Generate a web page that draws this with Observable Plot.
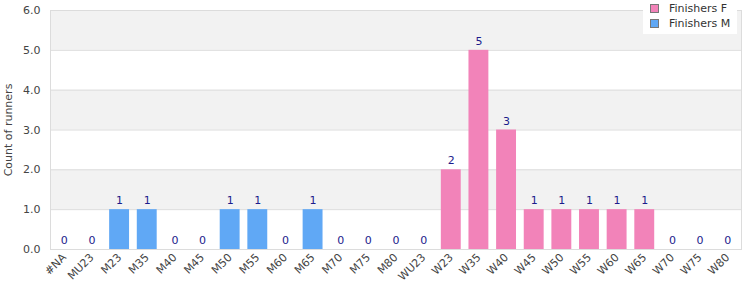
<!DOCTYPE html>
<html>
<head>
<meta charset="utf-8">
<script src="https://cdn.jsdelivr.net/npm/d3@7"></script>
<script src="https://cdn.jsdelivr.net/npm/@observablehq/plot@0.6"></script>
<style>
  body { margin: 0; background: #fff; font-family: "DejaVu Sans", sans-serif; }
  #wrap { position: relative; width: 750px; height: 300px; }
  #legend { position: absolute; left: 643px; top: 0px; width: 94px; height: 34px; background: #fff;
            font: 11px "DejaVu Sans", sans-serif; color: #333; }
  .li { position: absolute; left: 7px; display: flex; align-items: center; }
  .sw { width: 7px; height: 7px; border: 1px solid #777; margin-right: 10px; }
</style>
</head>
<body>
<div id="wrap"><div id="legend"></div></div>
<script>
const categories = ["#NA","MU23","M23","M35","M40","M45","M50","M55","M60","M65","M70","M75","M80",
  "WU23","W23","W35","W40","W45","W50","W55","W60","W65","W70","W75","W80"];
const values = [0,0,1,1,0,0,1,1,0,1,0,0,0, 0,2,5,3,1,1,1,1,1,0,0,0];
const series = ["M","M","M","M","M","M","M","M","M","M","M","M","M",
  "F","F","F","F","F","F","F","F","F","F","F","F"];
const seriesNames = ["Finishers F", "Finishers M"];
const seriesKeys = ["F", "M"];
const seriesColors = ["#f283b9", "#60a8f5"];
const yTicks = [0,1,2,3,4,5,6];
const shadedBands = [1,3,5];

const data = categories.map((c, i) => ({cat: c, value: values[i], s: series[i]}));

const chart = Plot.plot({
  width: 750, height: 300,
  marginLeft: 50, marginRight: 9, marginTop: 10, marginBottom: 51,
  style: {fontFamily: "DejaVu Sans, sans-serif", fontSize: "11px", color: "#444", background: "#fff"},
  x: {domain: categories, paddingInner: 0.28, paddingOuter: 0.14, round: false, label: null},
  y: {domain: [0, 6], label: null},
  color: {domain: seriesKeys, range: seriesColors},
  marks: [
    Plot.rect(shadedBands, {y1: d => d, y2: d => d + 1, fill: "#f2f2f2"}),
    Plot.gridY(yTicks, {stroke: "#dcdcdc", strokeOpacity: 1}),
    Plot.barY(data.filter(d => d.value > 0), {x: "cat", y: "value", fill: "s"}),
    Plot.text(data, {x: "cat", y: "value", text: d => String(d.value), dy: -9, fill: "#1c1c8c", fontSize: 11}),
    Plot.axisY(yTicks, {tickSize: 0, tickPadding: 10, tickFormat: d3.format(".1f"), fill: "#444",
      label: "Count of runners", labelAnchor: "center", labelOffset: 46, labelArrow: "none"}),
    Plot.axisX({tickSize: 0, tickPadding: 6, tickRotate: -45, fill: "#444", label: null}),
    Plot.frame({stroke: "#dcdcdc"})
  ]
});
document.getElementById("wrap").insertBefore(chart, document.getElementById("legend"));

const leg = document.getElementById("legend");
seriesNames.forEach((n, i) => {
  const row = document.createElement("div");
  row.className = "li";
  row.style.top = (2 + i * 15) + "px";
  const sw = document.createElement("div");
  sw.className = "sw";
  sw.style.background = seriesColors[i];
  const t = document.createElement("span");
  t.textContent = n;
  row.appendChild(sw); row.appendChild(t);
  leg.appendChild(row);
});
</script>
</body>
</html>
